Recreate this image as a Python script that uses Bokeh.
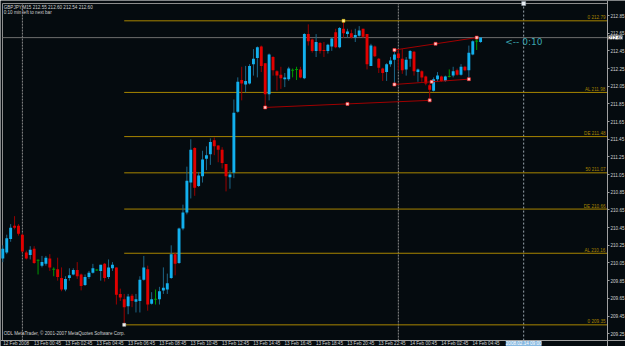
from bokeh.plotting import figure
from bokeh.models import (Range1d, FixedTicker, Label, ColumnDataSource, PrintfTickFormatter,
                          LinearAxis)
from bokeh.embed import file_html
from bokeh.resources import INLINE
from bokeh.core.properties import value

# ---------------- data (GBPJPY, M15) ----------------
opens = [210.10, 210.17, 210.32, 210.47, 210.47, 210.37, 210.17, 210.14, 210.21, 210.08,
         210.02, 210.04, 210.10, 209.98, 209.98, 209.88, 209.75, 209.88, 209.92, 209.97,
         209.92, 209.80, 209.89, 209.94, 209.97, 209.96, 210.04, 209.89, 209.99, 210.00,
         209.70, 209.64, 209.56, 209.68, 209.61, 209.62, 209.86, 209.98, 209.59, 209.64,
         209.64, 209.74, 209.75, 209.88, 210.15, 210.05, 210.44, 210.62, 210.96, 211.35,
         210.92, 211.03, 211.23, 211.28, 211.44, 211.38, 211.33, 211.17, 211.02, 211.07,
         211.76, 212.12, 212.07, 212.08, 212.30, 212.37, 212.50, 212.31, 211.96, 212.38,
         212.22, 212.18, 212.13, 212.13, 212.23, 212.24, 212.24, 212.14, 212.64, 212.58,
         212.45, 212.54, 212.46, 212.45, 212.50, 212.66, 212.49, 212.70, 212.64, 212.65,
         212.60, 212.62, 212.70, 212.64, 212.28, 212.50, 212.36, 212.25, 212.21, 212.30,
         212.35, 212.42, 212.36, 212.24, 212.36, 212.44, 212.21, 212.22, 212.16, 212.06,
         212.00, 212.13, 212.16, 212.11, 212.16, 212.17, 212.23, 212.18, 212.27, 212.23,
         212.41, 212.56, 212.55]
highs = [210.25, 210.37, 210.49, 210.58, 210.49, 210.38, 210.19, 210.24, 210.24, 210.09,
         210.13, 210.13, 210.15, 210.00, 210.11, 210.00, 209.90, 209.99, 209.99, 210.06,
         209.93, 209.92, 209.96, 210.04, 209.98, 210.03, 210.05, 210.09, 210.06, 210.00,
         209.76, 209.70, 209.70, 209.70, 209.70, 209.90, 210.13, 210.02, 209.72, 209.75,
         209.78, 210.00, 209.93, 210.25, 210.17, 210.45, 210.71, 211.14, 211.45, 211.36,
         211.08, 211.32, 211.37, 211.46, 211.47, 211.38, 211.36, 211.17, 211.10, 211.90,
         212.15, 212.27, 212.28, 212.30, 212.47, 212.50, 212.51, 212.31, 212.42, 212.39,
         212.23, 212.27, 212.20, 212.27, 212.25, 212.27, 212.27, 212.65, 212.75, 212.59,
         212.64, 212.55, 212.55, 212.53, 212.60, 212.70, 212.72, 212.79, 212.70, 212.69,
         212.70, 212.73, 212.70, 212.64, 212.53, 212.51, 212.37, 212.26, 212.31, 212.38,
         212.46, 212.47, 212.47, 212.38, 212.46, 212.45, 212.25, 212.23, 212.17, 212.08,
         212.15, 212.21, 212.17, 212.17, 212.24, 212.27, 212.25, 212.30, 212.28, 212.51,
         212.57, 212.60, 212.60]
lows = [210.06, 210.15, 210.29, 210.43, 210.36, 210.17, 210.09, 210.09, 210.04, 209.92,
        210.00, 210.02, 209.96, 209.90, 209.85, 209.73, 209.73, 209.85, 209.91, 209.87,
        209.74, 209.79, 209.87, 209.93, 209.96, 209.85, 209.84, 209.87, 209.96, 209.58,
        209.62, 209.35, 209.47, 209.55, 209.49, 209.49, 209.85, 209.51, 209.58, 209.58,
        209.58, 209.70, 209.70, 209.87, 209.91, 210.04, 210.42, 210.60, 210.78, 210.81,
        210.91, 210.96, 211.10, 211.16, 211.27, 211.19, 211.12, 210.86, 210.89, 211.01,
        211.75, 211.89, 211.98, 212.07, 212.17, 212.15, 212.21, 211.81, 211.89, 212.17,
        212.00, 212.02, 212.04, 212.11, 212.15, 212.12, 212.14, 212.13, 212.51, 212.43,
        212.38, 212.42, 212.38, 212.42, 212.45, 212.48, 212.48, 212.60, 212.60, 212.59,
        212.55, 212.61, 212.60, 212.24, 212.28, 212.38, 212.20, 212.11, 212.11, 212.27,
        212.07, 212.23, 212.19, 212.17, 212.27, 212.17, 212.10, 212.10, 212.06, 211.89,
        211.99, 212.10, 212.10, 212.10, 212.15, 212.15, 212.17, 212.17, 212.22, 212.13,
        212.40, 212.46, 212.54]
closes = [210.21, 210.33, 210.45, 210.45, 210.38, 210.18, 210.10, 210.20, 210.05, 210.08,
          210.06, 210.11, 210.00, 209.98, 209.89, 209.75, 209.87, 209.91, 209.97, 209.90,
          209.79, 209.89, 209.94, 209.99, 209.97, 210.03, 209.88, 210.00, 210.03, 209.69,
          209.66, 209.55, 209.67, 209.62, 209.64, 209.86, 210.00, 209.58, 209.64, 209.64,
          209.73, 209.77, 209.82, 210.15, 210.04, 210.44, 210.62, 210.98, 211.33, 210.90,
          211.04, 211.22, 211.27, 211.42, 211.37, 211.33, 211.18, 211.03, 211.05, 211.75,
          212.10, 212.08, 212.11, 212.28, 212.36, 212.49, 212.28, 211.96, 212.41, 212.23,
          212.17, 212.14, 212.15, 212.25, 212.23, 212.24, 212.15, 212.64, 212.56, 212.45,
          212.55, 212.45, 212.45, 212.52, 212.59, 212.49, 212.71, 212.65, 212.67, 212.60,
          212.63, 212.68, 212.61, 212.30, 212.51, 212.39, 212.26, 212.20, 212.30, 212.34,
          212.41, 212.37, 212.23, 212.35, 212.45, 212.22, 212.24, 212.15, 212.08, 212.01,
          212.13, 212.17, 212.11, 212.16, 212.16, 212.22, 212.18, 212.27, 212.23, 212.43,
          212.56, 212.56, 212.60]

time_ticks = [0, 8, 16, 24, 32, 40, 48, 56, 64, 72, 80, 88, 96, 104, 112, 120]
time_labels = ["12 Feb 2008", "13 Feb 00:45", "13 Feb 02:45", "13 Feb 04:45", "13 Feb 06:45",
               "13 Feb 08:45", "13 Feb 10:45", "13 Feb 12:45", "13 Feb 14:45", "13 Feb 16:45",
               "13 Feb 18:45", "13 Feb 20:45", "13 Feb 22:45", "14 Feb 00:45", "14 Feb 02:45",
               "14 Feb 04:45"]
day_breaks = [5, 101]
cursor_bar = 133
cursor_label = "2008.02.14 09:00"

price_ticks = [209.25, 209.45, 209.65, 209.85, 210.05, 210.25, 210.45, 210.65, 210.85,
               211.05, 211.25, 211.45, 211.65, 211.85, 212.05, 212.25, 212.45, 212.65, 212.85]
bid = 212.60

fib_names = ["0", "AL", "DE", "50", "DE", "AL", "0"]
fib_values = [212.79, 211.98, 211.48, 211.07, 210.66, 210.16, 209.35]
fib_start = 31

trend_x0 = [67, 100, 100]
trend_y0 = [211.81, 212.46, 212.07]
trend_x1 = [109, 121, 119]
trend_y1 = [211.89, 212.60, 212.13]

header1 = "GBPJPY,M15  212.55 212.60 212.54 212.60"
header2 = "0:10 min left to next bar"
copyright_text = "ODL MetaTrader, \u00a9 2001-2007 MetaQuotes Software Corp."
timer_text = "<-- 0:10"

# ---------------- styling / layout ----------------
BG = "#050b0f"
BULL = "#12b0ee"
BULL_WICK = "#1d6688"
BEAR = "#e00000"
BEAR_WICK = "#9a0000"
DOJI = "#009a00"
FIB = "#a88500"
TXT = "#d0d0d0"
BORDER = "#8c8c8c"
FONT = "Liberation Sans"
SMALL = "4.6px"

# whole canvas is the frame; the chart box edges in data units
XMIN, XMAX = -0.591, 159.0
YMIN, YMAX = 209.105, 213.02
LEFT_X, AXIS_X = -0.08, 154.4     # left border / price-scale line
TOP_Y, AXIS_Y = 212.986, 209.172  # top border / time-scale line

p = figure(width=625, height=346, x_range=Range1d(XMIN, XMAX), y_range=Range1d(YMIN, YMAX),
           output_backend="svg", toolbar_location=None, x_axis_type=None, y_axis_type=None,
           background_fill_color=BG, border_fill_color=BG,
           min_border=0, min_border_left=0, min_border_right=0, min_border_top=0,
           min_border_bottom=0, outline_line_color=None)
p.grid.visible = False

# price scale (right)
ya = LinearAxis(fixed_location=AXIS_X, ticker=FixedTicker(ticks=price_ticks),
                formatter=PrintfTickFormatter(format="%.2f"))
ya.major_label_text_font_size = SMALL
ya.major_label_text_font = FONT
ya.major_label_text_color = TXT
ya.axis_line_color = "#a0a0a0"
ya.major_tick_line_color = "#a0a0a0"
ya.major_tick_out = 2
ya.major_tick_in = 0
ya.minor_tick_line_color = None
ya.major_label_standoff = 1
p.add_layout(ya, "right")

# time scale (bottom)
xa = LinearAxis(fixed_location=AXIS_Y, ticker=FixedTicker(ticks=[t + 3.4 for t in time_ticks]))
xa.major_label_overrides = {t + 3.4: lab for t, lab in zip(time_ticks, time_labels)}
xa.major_label_text_font_size = SMALL
xa.major_label_text_font = FONT
xa.major_label_text_color = TXT
xa.axis_line_color = "#a0a0a0"
xa.major_tick_line_color = None
xa.minor_tick_line_color = None
xa.major_tick_out = 0
xa.major_tick_in = 0
xa.major_label_standoff = 0
p.add_layout(xa, "below")

# chart box borders (left, top)
p.segment(x0=[LEFT_X, LEFT_X], y0=[AXIS_Y, TOP_Y], x1=[LEFT_X, AXIS_X], y1=[TOP_Y, TOP_Y],
          line_color=BORDER, line_width=1)

# separators, cursor, bid line
p.segment(x0=day_breaks, y0=[AXIS_Y] * len(day_breaks), x1=day_breaks,
          y1=[TOP_Y] * len(day_breaks), line_color="#8a8a8a", line_dash="2 1", line_width=1)
p.segment(x0=[cursor_bar], y0=[AXIS_Y], x1=[cursor_bar], y1=[TOP_Y], line_color="#9aa6b0",
          line_dash="2 2", line_width=1)
p.segment(x0=[LEFT_X], y0=[bid], x1=[AXIS_X], y1=[bid], line_color="#6e6e6e", line_width=1)

# fib levels
fib_src = ColumnDataSource(dict(
    x0=[fib_start] * len(fib_values), x1=[AXIS_X] * len(fib_values), y=fib_values,
    lab=[f"{n} {v:.2f}" for n, v in zip(fib_names, fib_values)]))
p.segment(x0="x0", y0="y", x1="x1", y1="y", source=fib_src, line_color=FIB, line_width=1)
p.text(x="x1", y="y", text="lab", source=fib_src, text_align="right", text_baseline="bottom",
       text_font=value(FONT), text_font_size=SMALL, text_color=FIB, x_offset=-2, y_offset=-0.5)

# candles
idx = list(range(len(opens)))
body_col, wick_col, tops, bots = [], [], [], []
for o, c in zip(opens, closes):
    if c > o:
        body_col.append(BULL); wick_col.append(BULL_WICK)
    elif c < o:
        body_col.append(BEAR); wick_col.append(BEAR_WICK)
    else:
        body_col.append(DOJI); wick_col.append(DOJI)
    t, b = max(o, c), min(o, c)
    if t - b < 0.012:
        m = (t + b) / 2
        t, b = m + 0.006, m - 0.006
    tops.append(t); bots.append(b)

src = ColumnDataSource(dict(x=idx, h=highs, l=lows, top=tops, bot=bots,
                            bc=body_col, wc=wick_col))
p.segment(x0="x", y0="l", x1="x", y1="h", source=src, line_color="wc", line_width=1)
p.vbar(x="x", top="top", bottom="bot", width=0.74, source=src, fill_color="bc", line_color=None)

# trend / channel lines
p.segment(x0=trend_x0, y0=trend_y0, x1=trend_x1, y1=trend_y1, line_color="#a00000", line_width=1)
mid_x = [(a + b) / 2 for a, b in zip(trend_x0, trend_x1)]
mid_y = [(a + b) / 2 for a, b in zip(trend_y0, trend_y1)]
p.scatter(x=trend_x0 + trend_x1 + mid_x, y=trend_y0 + trend_y1 + mid_y, marker="square",
          size=3, fill_color="#ffd0d0", line_color="#ff2020", line_width=0.6)
# fib anchors
p.scatter(x=[fib_start, 87], y=[fib_values[-1], fib_values[0]], marker="square", size=3,
          fill_color=["#f0f0f0", "#ffe890"], line_color=["#c8c8c8", "#d8b800"], line_width=0.5)
# cursor marker at top
p.scatter(x=[cursor_bar], y=[TOP_Y], marker="square", size=4, fill_color="#e8eef4",
          line_color="#9aa6b0", line_width=0.5)

# texts
p.add_layout(Label(x=LEFT_X + 0.3, y=TOP_Y, y_offset=-1, text=header1, text_baseline="top",
                   text_font=FONT, text_font_size=SMALL, text_color=TXT))
p.add_layout(Label(x=LEFT_X + 0.3, y=TOP_Y, y_offset=-6.5, text=header2, text_baseline="top",
                   text_font=FONT, text_font_size=SMALL, text_color=TXT))
p.add_layout(Label(x=LEFT_X + 0.3, y=AXIS_Y, y_offset=7, text=copyright_text,
                   text_baseline="middle", text_font=FONT, text_font_size=SMALL, text_color=TXT))
p.add_layout(Label(x=128.3, y=212.545, text=timer_text, text_baseline="middle",
                   text_font="DejaVu Sans", text_font_size="9px", text_color="#3aa6b0"))
p.add_layout(Label(x=AXIS_X, y=bid, x_offset=1, text=f"{bid:.2f}", text_baseline="middle",
                   text_font=FONT, text_font_size=SMALL, text_color="black",
                   background_fill_color="white", level="overlay"))
p.add_layout(Label(x=cursor_bar, y=AXIS_Y, y_offset=-0.5, text=cursor_label, text_align="center",
                   text_baseline="top", text_font=FONT, text_font_size=SMALL,
                   text_color="white", background_fill_color="#86b8e0", level="overlay"))

open("out.html", "w").write(file_html(p, INLINE))
